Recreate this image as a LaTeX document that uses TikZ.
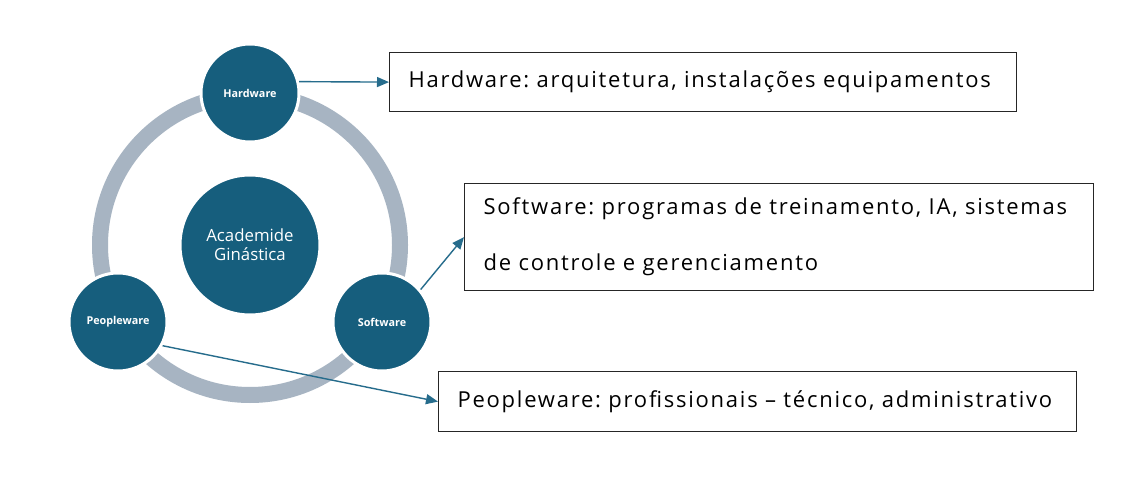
\documentclass[tikz,border=0pt]{standalone}
\usepackage{fontspec}
\setmainfont{Open Sans}
\newfontfamily\boxfont[LetterSpace=8]{Open Sans}
\frenchspacing
\usetikzlibrary{arrows.meta,positioning}
\definecolor{gymblue}{RGB}{22,94,125}
\definecolor{linkblue}{RGB}{38,108,140}
\definecolor{ringgray}{RGB}{167,180,194}

\begin{document}
\begin{tikzpicture}[x=1pt,y=-1pt,
    hub/.style={circle,fill=gymblue,draw=white,line width=3pt,text=white,inner sep=0pt,font=\fontsize{10.8}{12}\selectfont\bfseries},
    infobox/.style={draw=black!85,line width=1.2pt,anchor=north west,align=left,inner xsep=19pt,font=\boxfont\fontsize{22}{24}\selectfont},
    link/.style={linkblue,line width=1.4pt,-{Triangle[length=12pt,width=10pt]}}]
    \useasboundingbox (0,0) rectangle (1137,486);
    \fill[white] (0,0) rectangle (1137,486);
    \draw [ringgray,line width=16pt] (250,245) circle (150pt);
    \node [hub,minimum size=140pt,font=\fontsize{16.8}{19}\selectfont,align=center] (core) at (250,245) {Academide\\Ginástica};
    \node [hub,minimum size=98pt] (hw) at (250,93) {Hardware};
    \node [hub,minimum size=98pt] (sw) at (382,322) {Software};
    \node [hub,minimum size=98pt] (pw) at (118,322) {Peopleware};
    \node [infobox,text width=589pt,minimum height=59pt] (hwbox) at (389,52) {Hardware: arquitetura, instalações equipamentos};
    \node [infobox,text width=591pt,minimum height=107pt,font=\boxfont\fontsize{22}{56}\selectfont] (swbox) at (464,183) {Software: programas de treinamento, IA, sistemas\\de controle e gerenciamento};
    \node [infobox,text width=600pt,minimum height=60pt] (pwbox) at (438,371) {Peopleware: profissionais – técnico, administrativo};
    \draw [link] (hw.13) -- (hwbox.west);
    \draw [link] (sw.40) -- (swbox.west);
    \draw [link] (pw.-28) -- (pwbox.west);
\end{tikzpicture}
\end{document}
